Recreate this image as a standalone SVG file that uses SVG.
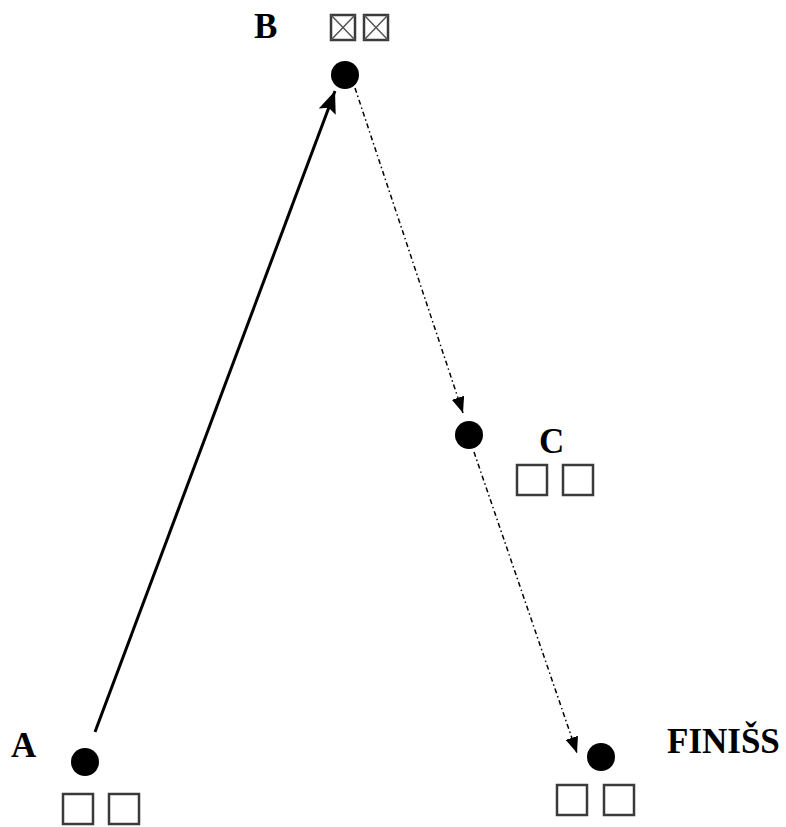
<svg xmlns="http://www.w3.org/2000/svg" width="786" height="827" viewBox="0 0 786 827">
<style>
.lbl{font-family:"Liberation Serif","Times New Roman",serif;font-weight:bold;font-size:35px;fill:#000}
.box{fill:none;stroke:#3a3a3a;stroke-width:2.5}
.xl{stroke:#555;stroke-width:1.5}
.dot{fill:#000}
.solid{stroke:#000;stroke-width:3;fill:none}
.dash{stroke:#000;stroke-width:1.5;fill:none;stroke-dasharray:5 3 1.5 3}
</style>
<defs>
<marker id="ah1" markerUnits="userSpaceOnUse" viewBox="0 0 22 18" refX="22" refY="9" markerWidth="22" markerHeight="18" orient="auto">
<path d="M0,0 L22,9 L0,18 L4,9 Z" fill="#000"/>
</marker>
<marker id="ah2" markerUnits="userSpaceOnUse" viewBox="0 0 16 13" refX="16" refY="6.5" markerWidth="16" markerHeight="13" orient="auto">
<path d="M0,0 L16,6.5 L0,13 Z" fill="#000"/>
</marker>
</defs>
<g id="connectors">
<line class="solid" x1="95" y1="732" x2="335" y2="91" marker-end="url(#ah1)"/>
<line class="dash" x1="355" y1="88" x2="463" y2="413" marker-end="url(#ah2)"/>
<line class="dash" x1="474" y1="452" x2="577" y2="753" marker-end="url(#ah2)"/>
</g>
<g id="node-A">
<circle class="dot" cx="85" cy="762" r="14"/>
<text class="lbl" x="11" y="757">A</text>
<rect class="box" x="63" y="794" width="30" height="30"/>
<rect class="box" x="109" y="794" width="30" height="30"/>
</g>
<g id="node-B">
<circle class="dot" cx="345" cy="75" r="14"/>
<text class="lbl" x="254" y="38">B</text>
<rect class="box" x="331" y="15" width="24" height="25"/>
<line class="xl" x1="331" y1="15" x2="355" y2="40"/>
<line class="xl" x1="355" y1="15" x2="331" y2="40"/>
<rect class="box" x="364" y="15" width="24" height="25"/>
<line class="xl" x1="364" y1="15" x2="388" y2="40"/>
<line class="xl" x1="388" y1="15" x2="364" y2="40"/>
</g>
<g id="node-C">
<circle class="dot" cx="469" cy="435" r="14"/>
<text class="lbl" x="539" y="453">C</text>
<rect class="box" x="517" y="465" width="30" height="30"/>
<rect class="box" x="563" y="465" width="30" height="30"/>
</g>
<g id="node-FINISS">
<circle class="dot" cx="601" cy="757" r="14"/>
<text class="lbl" x="667" y="753">FINIŠS</text>
<rect class="box" x="557" y="785" width="30" height="30"/>
<rect class="box" x="604" y="785" width="30" height="30"/>
</g>
</svg>
